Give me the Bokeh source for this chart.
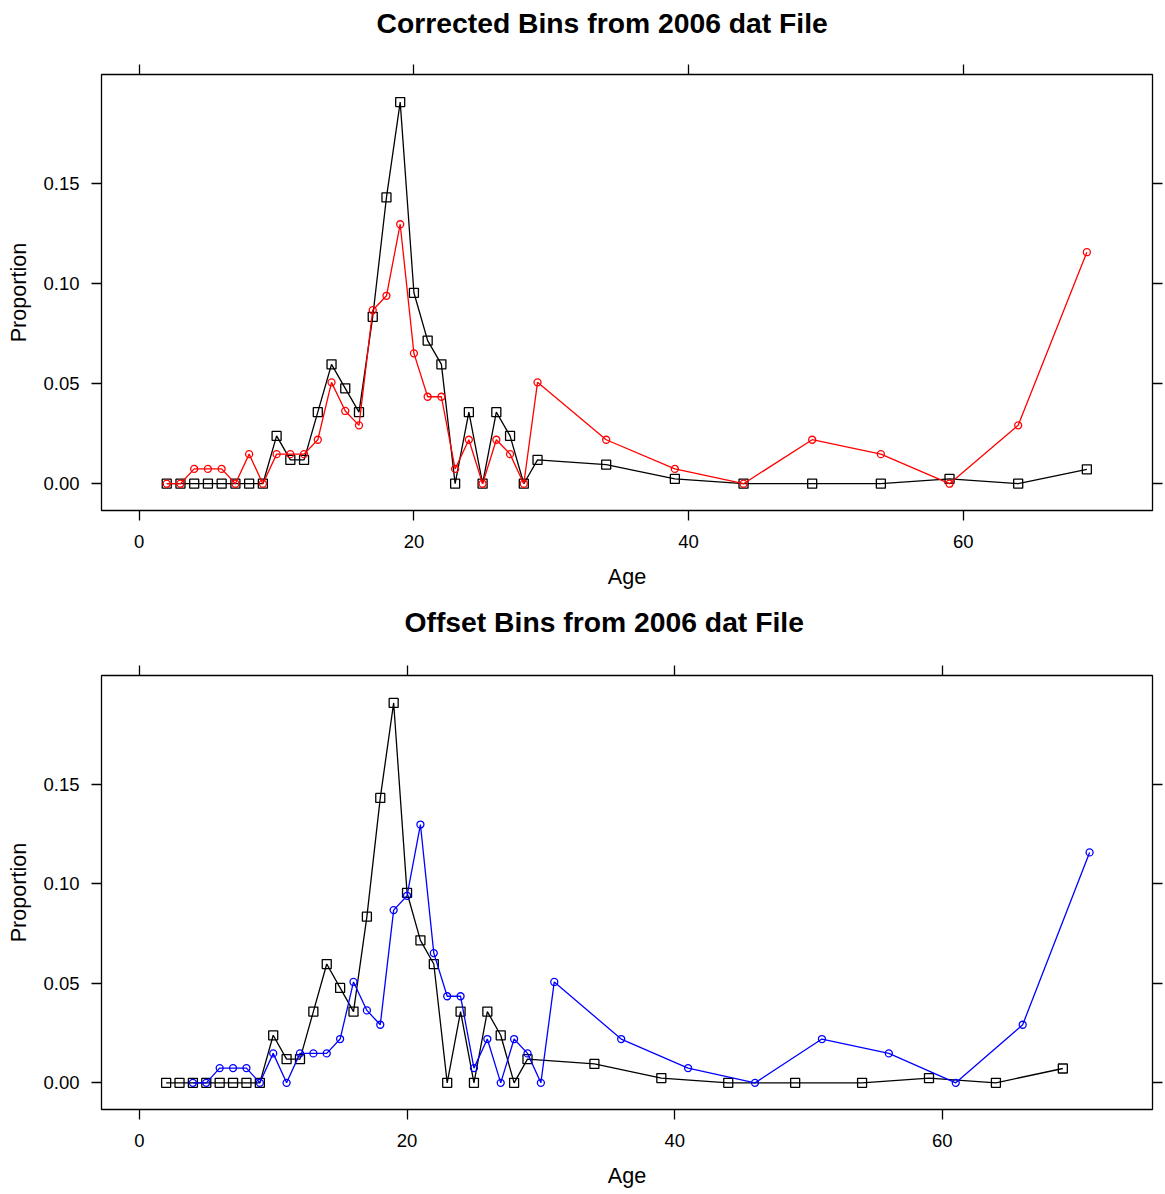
from bokeh.plotting import figure
from bokeh.layouts import column
from bokeh.models import Range1d, LinearAxis, FixedTicker, NumeralTickFormatter
from bokeh.embed import file_html
from bokeh.resources import INLINE

# age bins and proportions
age_black = [2, 3, 4, 5, 6, 7, 8, 9, 10, 11, 12, 13, 14, 15, 16, 17, 18, 19, 20,
             21, 22, 23, 24, 25, 26, 27, 28, 29, 34, 39, 44, 49, 54, 59, 64, 69]
prop_black = [0, 0, 0, 0, 0, 0, 0, 0, 0.0239, 0.0119, 0.0119, 0.0358, 0.0597,
              0.0477, 0.0358, 0.0835, 0.1432, 0.1909, 0.0955, 0.0716, 0.0597, 0,
              0.0358, 0, 0.0358, 0.0239, 0, 0.0119, 0.0095, 0.0024, 0, 0, 0,
              0.0024, 0, 0.0072]

# corrected bins (red)
age_corr = [2, 3, 4, 5, 6, 7, 8, 9, 10, 11, 12, 13, 14, 15, 16, 17, 18, 19, 20,
            21, 22, 23, 24, 25, 26, 27, 28, 29, 34, 39, 44, 49, 54, 59, 64, 69]
prop_corr = [0, 0, 0.0074, 0.0074, 0.0074, 0, 0.0148, 0, 0.0148, 0.0148, 0.0148,
             0.0220, 0.0507, 0.0364, 0.0292, 0.0868, 0.0940, 0.1298, 0.0652,
             0.0435, 0.0435, 0.0074, 0.0220, 0, 0.0220, 0.0148, 0, 0.0507,
             0.0220, 0.0074, 0, 0.0220, 0.0148, 0, 0.0292, 0.1158]

# offset bins (blue)
age_off = [4, 5, 6, 7, 8, 9, 10, 11, 12, 13, 14, 15, 16, 17, 18, 19, 20, 21, 22,
           23, 24, 25, 26, 27, 28, 29, 30, 31, 36, 41, 46, 51, 56, 61, 66, 71]
prop_off = [0, 0, 0.0074, 0.0074, 0.0074, 0, 0.0148, 0, 0.0148, 0.0148, 0.0148,
            0.0220, 0.0507, 0.0364, 0.0292, 0.0868, 0.0940, 0.1298, 0.0652,
            0.0435, 0.0435, 0.0074, 0.0220, 0, 0.0220, 0.0148, 0, 0.0507,
            0.0220, 0.0074, 0, 0.0220, 0.0148, 0, 0.0292, 0.1158]

x_ticks = [0, 20, 40, 60]
y_ticks = [0, 0.05, 0.10, 0.15]

FONT = "Liberation Sans"


def panel(title, xr, height, top, bottom, title_offset, title_pad,
          ages, props, color):
    p = figure(width=1165, height=height, x_range=Range1d(*xr),
               y_range=Range1d(-0.0134, 0.2047), output_backend="svg",
               toolbar_location=None, min_border_left=101, min_border_right=13,
               min_border_top=top, min_border_bottom=bottom,
               outline_line_color="black", outline_line_width=1.3)
    p.grid.visible = False

    p.title.text = title
    p.title.text_font = FONT
    p.title.text_font_size = "28.3px"
    p.title.text_font_style = "bold"
    p.title.text_color = "black"
    p.title.align = "left"
    p.title.offset = title_offset
    p.title.standoff = 0
    # bottom padding lifts the title away from the box
    p.title.padding = dict(left=0, right=0, top=0, bottom=title_pad)

    p.xaxis.ticker = FixedTicker(ticks=x_ticks)
    p.yaxis.ticker = FixedTicker(ticks=y_ticks)
    p.yaxis.formatter = NumeralTickFormatter(format="0.00")
    p.xaxis.axis_label = "Age"
    p.yaxis.axis_label = "Proportion"
    p.yaxis.major_label_orientation = "horizontal"
    for ax in (p.xaxis[0], p.yaxis[0]):
        ax.axis_line_color = None
        ax.major_tick_out = 10
        ax.major_tick_in = 0
        ax.major_tick_line_width = 1.3
        ax.minor_tick_line_color = None
        ax.major_label_text_font = FONT
        ax.major_label_text_font_size = "18.5px"
        ax.major_label_text_color = "black"
        ax.axis_label_text_font = FONT
        ax.axis_label_text_font_size = "21.6px"
        ax.axis_label_text_font_style = "normal"
        ax.axis_label_text_color = "black"
    p.xaxis[0].major_label_standoff = 14
    p.xaxis[0].axis_label_standoff = 13
    p.yaxis[0].major_label_standoff = 12
    p.yaxis[0].axis_label_standoff = 9

    # tick marks on the top and right edges, no labels
    top_ax = LinearAxis(ticker=FixedTicker(ticks=x_ticks))
    right_ax = LinearAxis(ticker=FixedTicker(ticks=y_ticks))
    for ax in (top_ax, right_ax):
        ax.axis_line_color = None
        ax.major_tick_out = 10
        ax.major_tick_in = 0
        ax.major_tick_line_width = 1.3
        ax.minor_tick_line_color = None
        ax.major_label_text_font_size = "0px"
        ax.major_label_text_color = None
        ax.major_label_standoff = 0
    p.add_layout(top_ax, "above")
    p.add_layout(right_ax, "right")

    p.line(age_black, prop_black, line_color="black", line_width=1.3)
    p.scatter(age_black, prop_black, marker="square", size=9, fill_color=None,
              line_color="black", line_width=1.3)
    p.line(ages, props, line_color=color, line_width=1.3)
    p.scatter(ages, props, marker="circle", size=7, fill_color=None,
              line_color=color, line_width=1.3)
    return p


p1 = panel("Corrected Bins from 2006 dat File", (-2.75, 73.78), 600, 74, 90,
           275, 26, age_corr, prop_corr, "#ff0000")
p2 = panel("Offset Bins from 2006 dat File", (-2.83, 75.7), 594, 75, 85,
           303, 28, age_off, prop_off, "#0000ff")

p = column(p1, p2)
open("out.html", "w").write(file_html(p, INLINE))
